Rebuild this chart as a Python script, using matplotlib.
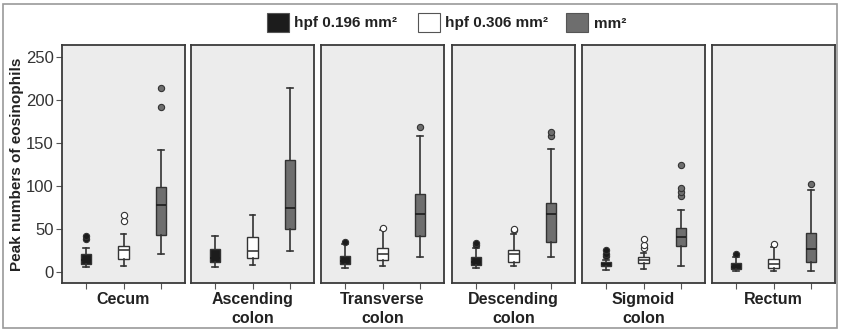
import matplotlib
matplotlib.use('Agg')
import matplotlib.pyplot as plt
from matplotlib.patches import Rectangle

plt.rcParams['font.family'] = ['Liberation Sans', 'DejaVu Sans']

# segments and the three measurement units
segments = ["Cecum", "Ascending\ncolon", "Transverse\ncolon", "Descending\ncolon", "Sigmoid\ncolon", "Rectum"]
units = ["hpf 0.196 mm\u00b2", "hpf 0.306 mm\u00b2", "mm\u00b2"]

# box statistics per segment, order: hpf 0.196, hpf 0.306, mm2
whislo = [[5, 6, 20], [5.5, 7.5, 24], [4.5, 6, 17], [4.5, 6, 17], [2, 3, 7], [1, 1, 1]]
q1 = [[8.5, 14.5, 43], [11, 15.5, 50], [8.5, 13, 41], [7.5, 11, 34], [6.5, 10, 29.5], [3, 4, 11]]
med = [[13, 25, 77], [16, 24, 74], [12, 21, 67], [11, 20, 67], [8.5, 13.5, 40], [5.5, 8.5, 26]]
q3 = [[20, 30, 98], [26, 40, 130], [18, 27, 90], [16.5, 25, 80], [11, 16.5, 51], [9.5, 14.5, 45]]
whishi = [[28, 44, 142], [42, 66, 214], [32, 48, 158], [28, 44, 143], [14, 22, 72], [17, 29, 95]]
fliers = [
    [[38, 41], [59, 66], [192, 214]],
    [[], [], []],
    [[34], [51], [168]],
    [[31, 33], [48, 50], [158, 163]],
    [[18, 20, 25], [28, 31, 38], [88, 93, 97, 124]],
    [[20], [32], [102]],
]

face = ["#1c1c1c", "#ffffff", "#6e6e6e"]
medcol = ["#1c1c1c", "#3a3a3a", "#1c1c1c"]
flierface = ["#1c1c1c", "#ffffff", "#6e6e6e"]
edge = "#333333"

fig = plt.figure(figsize=(8.47, 3.32), dpi=100)
W, H = 847.0, 332.0

# outer frame
fig.patches.append(Rectangle((3 / W, 4 / H), 834 / W, 324 / H, transform=fig.transFigure,
                             fill=False, edgecolor="#9a9a9a", linewidth=1.2))

lefts = [62, 191, 321, 452, 582, 712]
pw = 123
bottom, top = 282.7, 45
for i, seg in enumerate(segments):
    ax = fig.add_axes([lefts[i] / W, (H - bottom) / H, pw / W, (bottom - top) / H])
    ax.set_facecolor("#ececec")
    stats = []
    for j in range(3):
        stats.append(dict(whislo=whislo[i][j], q1=q1[i][j], med=med[i][j], q3=q3[i][j],
                          whishi=whishi[i][j], fliers=fliers[i][j]))
    bp = ax.bxp(stats, positions=[1, 2, 3], widths=0.28, patch_artist=True, showfliers=True)
    for j in range(3):
        bp['boxes'][j].set(facecolor=face[j], edgecolor=edge, linewidth=1)
        bp['medians'][j].set(color=medcol[j], linewidth=1.2)
        bp['fliers'][j].set(marker='o', markersize=4.5, markerfacecolor=flierface[j],
                            markeredgecolor=edge, markeredgewidth=0.8)
    for ln in bp['whiskers'] + bp['caps']:
        ln.set(color=edge, linewidth=1.2)
    for c in bp['caps']:
        m = c.get_xdata().mean()
        c.set_xdata([m - 0.08, m + 0.08])
    ax.set_xlim(0.35, 3.65)
    ax.set_ylim(-13, 264)
    ax.set_xticks([1, 2, 3])
    ax.set_xticklabels([])
    ax.tick_params(axis='x', direction='out', length=4, color="#555555")
    for s in ax.spines.values():
        s.set_color("#3a3a3a")
        s.set_linewidth(1.3)
    if i == 0:
        ax.set_yticks([0, 50, 100, 150, 200, 250])
        ax.tick_params(axis='y', direction='out', length=4, color="#555555",
                       labelsize=12, labelcolor="#333333", pad=2)
        ax.set_ylabel("Peak numbers of eosinophils", fontsize=11, fontweight='bold',
                      color="#222222", labelpad=1)
    else:
        ax.set_yticks([])
    fig.text((lefts[i] + pw / 2) / W, 1 - 292 / H, seg, ha='center', va='top',
             fontsize=11.5, fontweight='bold', color="#222222", linespacing=1.35)

# legend along the top
leg_x = [267, 418, 566]
txt_x = [294, 445, 594]
for k in range(3):
    fig.patches.append(Rectangle((leg_x[k] / W, 1 - 32 / H), 22 / W, 19 / H, transform=fig.transFigure,
                                 facecolor=face[k], edgecolor="#555555", linewidth=0.8))
    fig.text(txt_x[k] / W, 1 - 23.5 / H, units[k], ha='left', va='center',
             fontsize=11, fontweight='bold', color="#222222")

fig.savefig("out.png", dpi=100)
